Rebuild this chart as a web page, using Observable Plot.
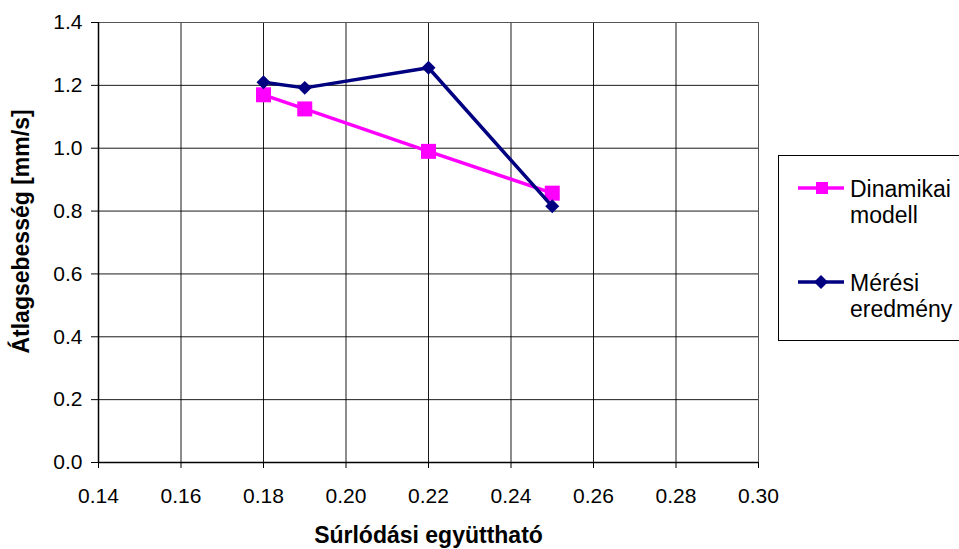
<!DOCTYPE html>
<html>
<head>
<meta charset="utf-8">
<script src="https://cdn.jsdelivr.net/npm/d3@7"></script>
<script src="https://cdn.jsdelivr.net/npm/@observablehq/plot@0.6"></script>
<style>
  html, body { margin: 0; padding: 0; background: #fff; }
  #wrap { position: relative; width: 959px; height: 549px; overflow: hidden; font-family: "Liberation Sans", Arial, sans-serif; }
  #legend { position: absolute; left: 778px; top: 155px; width: 200px; height: 186px; border: 1px solid #000; box-sizing: border-box; background: #fff; }
  .item { position: absolute; left: 19px; display: flex; align-items: flex-start; font-size: 23px; line-height: 26px; color: #000; }
  .item svg { margin-top: 0px; margin-right: 6px; flex: none; }
</style>
</head>
<body>
<div id="wrap"></div>
<script>
const friction = [0.18, 0.19, 0.22, 0.25];
const dinamikai = [1.170, 1.125, 0.990, 0.857];
const meresi = [1.210, 1.192, 1.256, 0.815];
const xTicks = [0.14, 0.16, 0.18, 0.20, 0.22, 0.24, 0.26, 0.28, 0.30];
const yTicks = [0, 0.2, 0.4, 0.6, 0.8, 1.0, 1.2, 1.4];
const seriesNames = ["Dinamikai modell", "Mérési eredmény"];
const colors = ["#FF00FF", "#000080"];
const xLabel = "Súrlódási együttható";
const yLabel = "Átlagsebesség [mm/s]";

const dinData = friction.map((x, i) => ({x, y: dinamikai[i]}));
const merData = friction.map((x, i) => ({x, y: meresi[i]}));

const chart = Plot.plot({
  width: 959,
  height: 549,
  marginLeft: 98,
  marginRight: 201,
  marginTop: 22,
  marginBottom: 87,
  style: {fontFamily: "Liberation Sans, Arial, sans-serif", fontSize: "21px", background: "#fff", color: "#000"},
  x: {domain: [0.14, 0.30]},
  y: {domain: [0, 1.4]},
  marks: [
    Plot.gridX(xTicks, {stroke: "#000", strokeOpacity: 0.9, strokeWidth: 1}),
    Plot.gridY(yTicks, {stroke: "#000", strokeOpacity: 0.9, strokeWidth: 1}),
    Plot.frame({stroke: "#555", strokeWidth: 1}),
    Plot.ruleX([0.14], {stroke: "#000", strokeWidth: 1.5}),
    Plot.ruleY([0], {stroke: "#000", strokeWidth: 1.5}),
    Plot.axisX(xTicks, {tickFormat: d3.format(".2f"), tickSize: 6, tickPadding: 20, fontSize: 21, label: null, stroke: "#000", fill: "#000"}),
    Plot.axisY(yTicks, {tickFormat: d3.format(".1f"), tickSize: 7, tickPadding: 9, fontSize: 21, label: null, stroke: "#000", fill: "#000"}),
    Plot.text([xLabel], {frameAnchor: "bottom", textAnchor: "middle", lineAnchor: "bottom", dy: 80, fontWeight: "bold", fontSize: 23, fill: "#000"}),
    Plot.text([yLabel], {frameAnchor: "left", textAnchor: "middle", lineAnchor: "middle", dx: -77, dy: -11, rotate: -90, fontWeight: "bold", fontSize: 23, fill: "#000"}),
    Plot.line(dinData, {x: "x", y: "y", stroke: colors[0], strokeWidth: 3.5}),
    Plot.dot(dinData, {x: "x", y: "y", symbol: "square", r: 8.46, fill: colors[0], stroke: null}),
    Plot.line(merData, {x: "x", y: "y", stroke: colors[1], strokeWidth: 3.5}),
    Plot.dot(merData, {x: "x", y: "y", symbol: "diamond2", r: 6.3, fill: colors[1], stroke: null})
  ]
});

const wrap = document.getElementById("wrap");
wrap.appendChild(chart);

const legend = document.createElement("div");
legend.id = "legend";
const tops = [20, 114];
const symbolSvg = [
  `<svg width="46" height="24"><line x1="0" y1="12" x2="46" y2="12" stroke="${colors[0]}" stroke-width="3.5"/><rect x="18" y="6" width="12" height="12" fill="${colors[0]}"/></svg>`,
  `<svg width="46" height="24"><line x1="0" y1="12" x2="46" y2="12" stroke="${colors[1]}" stroke-width="3.5"/><polygon points="23,5 30,12 23,19 16,12" fill="${colors[1]}"/></svg>`
];
seriesNames.forEach((name, i) => {
  const it = document.createElement("div");
  it.className = "item";
  it.style.top = tops[i] + "px";
  const parts = name.split(" ");
  it.innerHTML = symbolSvg[i] + `<div>${parts[0]}<br>${parts[1]}</div>`;
  legend.appendChild(it);
});
wrap.appendChild(legend);
</script>
</body>
</html>
